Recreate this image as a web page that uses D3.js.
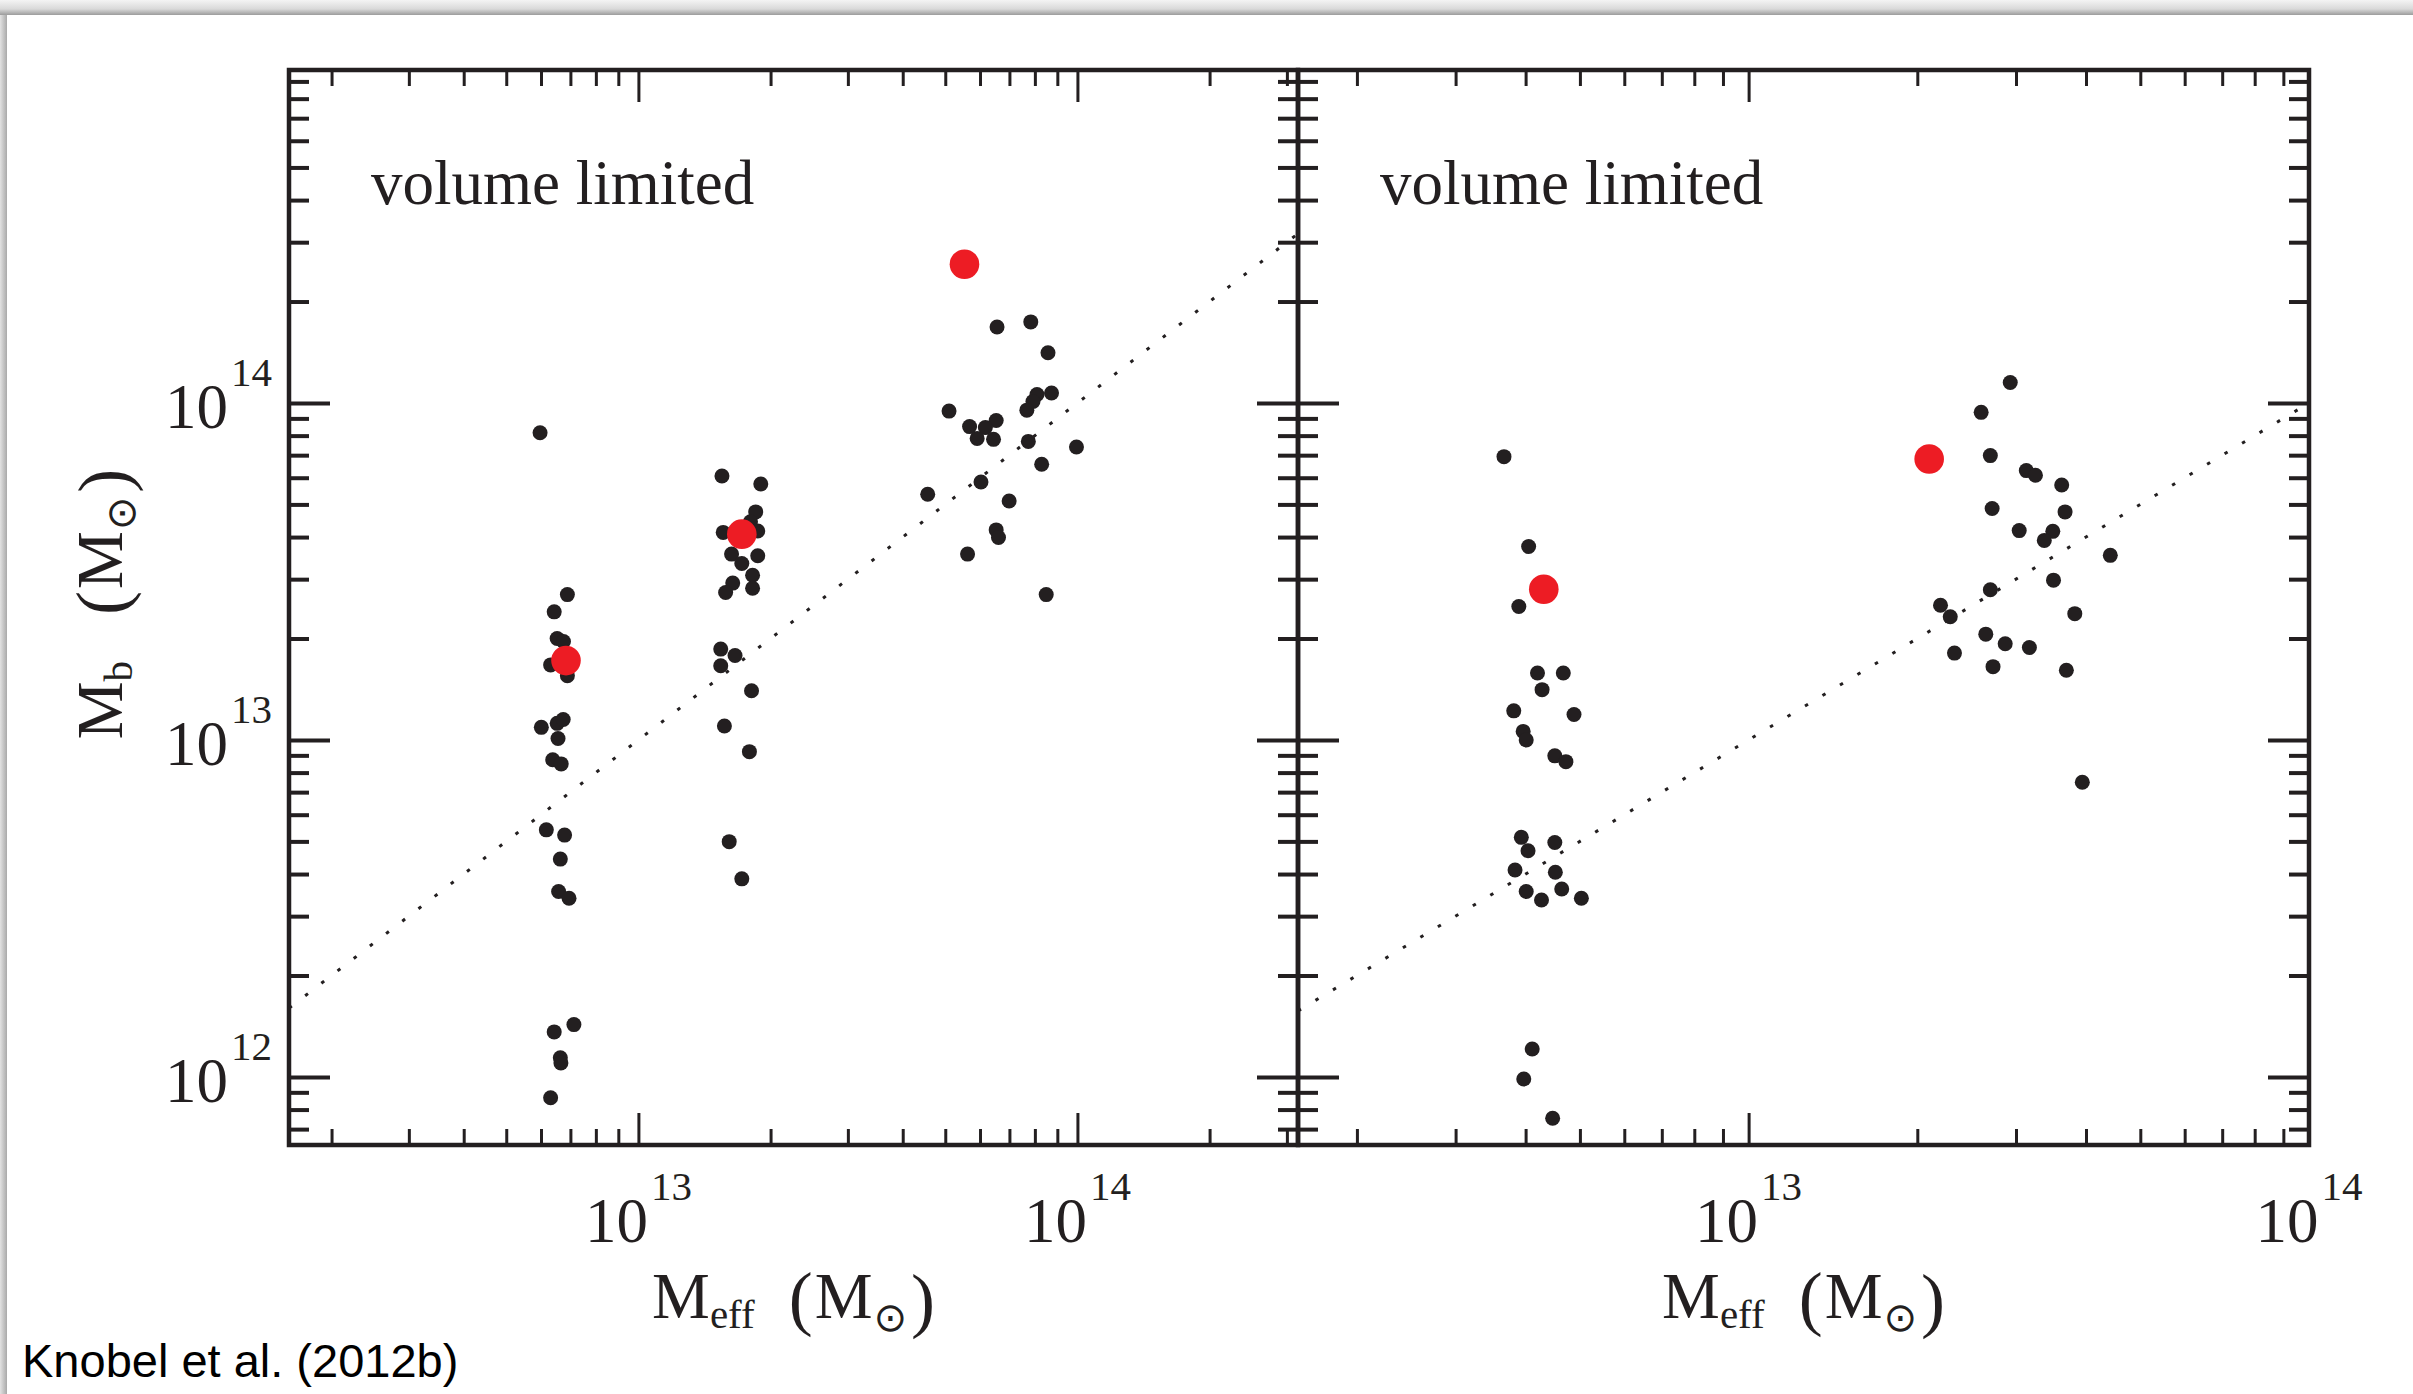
<!DOCTYPE html>
<html>
<head>
<meta charset="utf-8">
<script src="https://cdn.jsdelivr.net/npm/d3@7"></script>
<style>
  body { margin: 0; background: #fff; }
  svg { display: block; }
</style>
</head>
<body>
<svg id="chart" width="2413" height="1394"></svg>
<script>
// values (solar masses)
var leftBlackMeff = [5.97e12, 6.89e12, 6.43e12, 6.53e12, 6.75e12, 6.31e12, 6.89e12, 6.01e12, 6.53e12, 6.74e12,
    6.56e12, 6.38e12, 6.67e12, 6.17e12, 6.79e12, 6.64e12, 6.58e12, 6.95e12, 6.43e12, 7.13e12, 6.64e12, 6.66e12, 6.31e12,
    1.55e13, 1.90e13, 1.85e13, 1.80e13, 1.56e13, 1.87e13, 1.63e13, 1.87e13, 1.72e13, 1.82e13, 1.64e13, 1.58e13, 1.82e13,
    1.54e13, 1.66e13, 1.54e13, 1.81e13, 1.57e13, 1.79e13, 1.61e13, 1.72e13,
    6.56e13, 7.83e13, 8.57e13, 8.73e13, 8.09e13, 7.92e13, 7.67e13, 5.10e13, 5.68e13, 6.53e13, 6.17e13, 5.91e13,
    6.44e13, 7.73e13, 9.95e13, 8.29e13, 6.03e13, 4.56e13, 6.99e13, 6.53e13, 6.61e13, 5.62e13, 8.49e13];
var leftBlackMb = [8.16e13, 2.70e13, 2.40e13, 2.00e13, 1.96e13, 1.67e13, 1.55e13, 1.09e13, 1.12e13, 1.15e13,
    1.01e13, 8.73e12, 8.49e12, 5.41e12, 5.22e12, 4.43e12, 3.55e12, 3.39e12, 1.36e12, 1.43e12, 1.14e12, 1.10e12, 8.67e11,
    6.07e13, 5.75e13, 4.75e13, 4.44e13, 4.13e13, 4.17e13, 3.56e13, 3.52e13, 3.34e13, 3.08e13, 2.92e13, 2.74e13, 2.82e13,
    1.86e13, 1.78e13, 1.66e13, 1.40e13, 1.10e13, 9.23e12, 4.99e12, 3.87e12,
    1.68e14, 1.74e14, 1.41e14, 1.07e14, 1.06e14, 1.01e14, 9.52e13, 9.46e13, 8.51e13, 8.87e13, 8.45e13, 7.85e13,
    7.80e13, 7.69e13, 7.40e13, 6.58e13, 5.83e13, 5.36e13, 5.12e13, 4.20e13, 3.99e13, 3.56e13, 2.70e13];
var leftRedMeff = [6.84e12, 1.72e13, 5.53e13];
var leftRedMb = [1.72e13, 4.08e13, 2.58e14];

var rightBlackMeff = [3.66e12, 4.05e12, 3.89e12, 4.20e12, 4.67e12, 4.28e12, 3.81e12, 4.88e12, 3.96e12, 4.01e12,
    4.51e12, 4.72e12, 3.93e12, 4.51e12, 4.04e12, 3.83e12, 4.52e12, 4.01e12, 4.64e12, 4.27e12, 5.03e12, 4.11e12,
    3.97e12, 4.47e12,
    2.93e13, 2.60e13, 2.70e13, 3.13e13, 3.25e13, 3.62e13, 2.72e13, 3.67e13, 3.04e13, 3.49e13, 3.37e13, 4.42e13,
    3.50e13, 2.70e13, 2.20e13, 2.29e13, 3.82e13, 2.65e13, 2.87e13, 3.17e13, 2.33e13, 2.73e13, 3.69e13, 3.94e13];
var rightBlackMb = [6.93e13, 3.75e13, 2.49e13, 1.58e13, 1.58e13, 1.41e13, 1.22e13, 1.19e13, 1.06e13, 1.00e13,
    8.97e12, 8.62e12, 5.14e12, 4.96e12, 4.69e12, 4.11e12, 4.05e12, 3.55e12, 3.61e12, 3.35e12, 3.39e12, 1.21e12,
    9.86e11, 7.54e11,
    1.15e14, 9.38e13, 6.98e13, 6.30e13, 6.10e13, 5.71e13, 4.86e13, 4.75e13, 4.18e13, 4.16e13, 3.91e13, 3.53e13,
    2.98e13, 2.79e13, 2.51e13, 2.32e13, 2.37e13, 2.06e13, 1.93e13, 1.88e13, 1.81e13, 1.65e13, 1.61e13, 7.49e12];
var rightRedMeff = [4.31e12, 2.10e13];
var rightRedMb = [2.80e13, 6.82e13];

var leftXTickLabels = [1e13, 1e14];
var rightXTickLabels = [1e13, 1e14];
var yTickLabels = [1e12, 1e13, 1e14];
var panelNote = "volume limited";
var credit = "Knobel et al. (2012b)";

var ink = "#231f20", red = "#ed1c24";
var serif = "'Liberation Serif', 'Times New Roman', serif";
var svg = d3.select("#chart");

// slide frame: grey shadow band on top and left
var defs = svg.append("defs");
var gTop = defs.append("linearGradient").attr("id", "topShade").attr("x1", 0).attr("y1", 0).attr("x2", 0).attr("y2", 1);
gTop.append("stop").attr("offset", "0%").attr("stop-color", "#f4f4f4");
gTop.append("stop").attr("offset", "60%").attr("stop-color", "#d9d9d9");
gTop.append("stop").attr("offset", "100%").attr("stop-color", "#9c9c9c");
var gLeft = defs.append("linearGradient").attr("id", "leftShade").attr("x1", 0).attr("y1", 0).attr("x2", 1).attr("y2", 0);
gLeft.append("stop").attr("offset", "0%").attr("stop-color", "#e2e2e2");
gLeft.append("stop").attr("offset", "100%").attr("stop-color", "#a9a9a9");
svg.append("rect").attr("x", 0).attr("y", 0).attr("width", 7).attr("height", 1394).attr("fill", "url(#leftShade)");
svg.append("rect").attr("x", 0).attr("y", 0).attr("width", 2413).attr("height", 15).attr("fill", "url(#topShade)");

var y = d3.scaleLog().domain([6.28e11, 9.73e14]).range([1145, 70]);

function logTicks(domain, major) {
    var out = [];
    for (var d = 11; d <= 15; d++) {
        for (var m = 1; m <= 9; m++) {
            var v = m * Math.pow(10, d);
            if (v >= domain[0] && v <= domain[1] && ((m === 1) === major)) out.push(v);
        }
    }
    return out;
}

function addPower(sel, v) {
    var e = Math.round(Math.log10(v));
    sel.append("tspan").text("10");
    sel.append("tspan").attr("dx", 3).attr("dy", -42).attr("font-size", 41).text(e);
}

function drawTicks(g, axis, tr, len, vals, width) {
    var a = g.append("g").attr("transform", tr)
        .call(axis.tickValues(vals).tickSize(len).tickSizeOuter(0).tickFormat(""));
    a.select(".domain").remove();
    a.selectAll("text").remove();
    a.selectAll("line").attr("stroke", ink).attr("stroke-width", width);
}

// "M_sub (M_sun)" with TeX-like spacing and taller parentheses
function drawMassTitle(g, sub, gap) {
    var t = g.append("text").attr("text-anchor", "middle").attr("font-family", serif)
        .attr("font-size", 65).attr("fill", ink);
    t.append("tspan").text("M");
    t.append("tspan").attr("font-size", 41).attr("dy", 10).text(sub);
    t.append("tspan").attr("font-size", 72).attr("dx", gap).attr("dy", -6).text("(");
    t.append("tspan").attr("dx", 2).attr("dy", -4).text("M");
    t.append("tspan").attr("font-family", "'DejaVu Sans', sans-serif").attr("font-size", 40)
        .attr("dx", 1).attr("dy", 13).text("\u2299");
    t.append("tspan").attr("font-size", 72).attr("dx", 4).attr("dy", -7).text(")");
    return t;
}

function drawPanel(p) {
    var x = d3.scaleLog().domain(p.xDomain).range([p.x0, p.x1]);
    var g = svg.append("g");
    var clipId = "clip" + p.name;
    defs.append("clipPath").attr("id", clipId).append("rect")
        .attr("x", p.x0).attr("y", 70).attr("width", p.x1 - p.x0).attr("height", 1145 - 70);

    // one-to-one line
    var line = d3.line().x(function(d) { return x(d); }).y(function(d) { return y(d); });
    g.append("path").datum(p.xDomain).attr("d", line).attr("clip-path", "url(#" + clipId + ")")
        .attr("fill", "none").attr("stroke", ink).attr("stroke-width", 3).attr("stroke-dasharray", "3.5,16.9");

    // points
    var black = p.bx.map(function(v, i) { return [v, p.by[i]]; });
    var reds = p.rx.map(function(v, i) { return [v, p.ry[i]]; });
    g.append("g").selectAll("circle").data(black).join("circle")
        .attr("cx", function(d) { return x(d[0]); }).attr("cy", function(d) { return y(d[1]); })
        .attr("r", 7.5).attr("fill", ink);
    g.append("g").selectAll("circle").data(reds).join("circle")
        .attr("cx", function(d) { return x(d[0]); }).attr("cy", function(d) { return y(d[1]); })
        .attr("r", 14.8).attr("fill", red);

    // ticks on all four sides
    var xMaj = logTicks(p.xDomain, true), xMin = logTicks(p.xDomain, false);
    var yMaj = logTicks(y.domain(), true), yMin = logTicks(y.domain(), false);
    drawTicks(g, d3.axisBottom(x), "translate(0,70)", 32, xMaj, 3);
    drawTicks(g, d3.axisBottom(x), "translate(0,70)", 16, xMin, 3);
    drawTicks(g, d3.axisTop(x), "translate(0,1145)", 32, xMaj, 3);
    drawTicks(g, d3.axisTop(x), "translate(0,1145)", 16, xMin, 3);
    drawTicks(g, d3.axisRight(y), "translate(" + p.x0 + ",0)", 41, yMaj, 4);
    drawTicks(g, d3.axisRight(y), "translate(" + p.x0 + ",0)", 20, yMin, 4);
    drawTicks(g, d3.axisLeft(y), "translate(" + p.x1 + ",0)", 41, yMaj, 4);
    drawTicks(g, d3.axisLeft(y), "translate(" + p.x1 + ",0)", 20, yMin, 4);

    g.append("rect").attr("x", p.x0).attr("y", 70).attr("width", p.x1 - p.x0).attr("height", 1075)
        .attr("fill", "none").attr("stroke", ink).attr("stroke-width", 4.5);

    // x tick labels
    p.xLabels.forEach(function(v) {
        var t = g.append("text").attr("x", x(v)).attr("y", 1242).attr("text-anchor", "middle")
            .attr("font-family", serif).attr("font-size", 63).attr("fill", ink);
        addPower(t, v);
    });

    if (p.yLabels) {
        p.yLabels.forEach(function(v) {
            var t = g.append("text").attr("x", 272).attr("y", y(v) + 25).attr("text-anchor", "end")
                .attr("font-family", serif).attr("font-size", 63).attr("fill", ink);
            addPower(t, v);
        });
    }

    g.append("text").attr("x", p.x0 + 82).attr("y", 204).attr("font-family", serif)
        .attr("font-size", 63).attr("fill", ink).text(panelNote);

    var tg = g.append("g").attr("transform", "translate(" + ((p.x0 + p.x1) / 2) + ",1318)");
    drawMassTitle(tg, "eff", 34);
}

drawPanel({name: "L", x0: 289, x1: 1298, xDomain: [1.6e12, 3.18e14],
    bx: leftBlackMeff, by: leftBlackMb, rx: leftRedMeff, ry: leftRedMb,
    xLabels: leftXTickLabels, yLabels: yTickLabels});
drawPanel({name: "R", x0: 1298, x1: 2309, xDomain: [1.57e12, 1e14],
    bx: rightBlackMeff, by: rightBlackMb, rx: rightRedMeff, ry: rightRedMb,
    xLabels: rightXTickLabels, yLabels: null});

// y axis title, rotated
var yt = svg.append("g").attr("transform", "translate(122,604) rotate(-90)");
drawMassTitle(yt, "b", 46);

svg.append("text").attr("x", 22).attr("y", 1377)
    .attr("font-family", "'Liberation Sans', Arial, sans-serif").attr("font-size", 47)
    .attr("fill", "#000").text(credit);
</script>
</body>
</html>
